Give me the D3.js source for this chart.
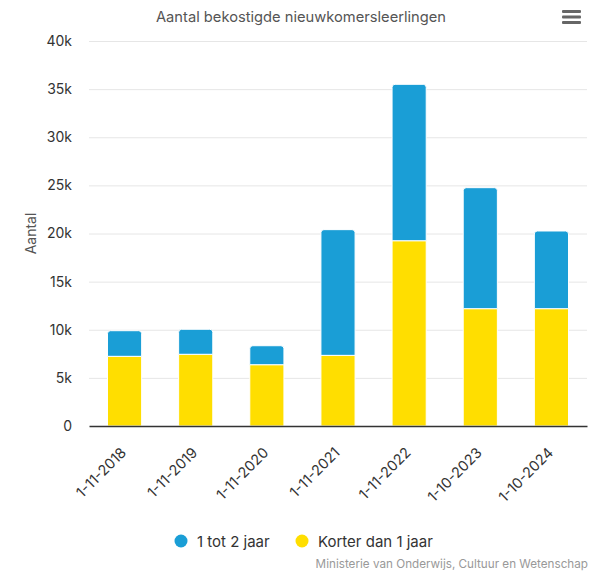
<!DOCTYPE html>
<html>
<head>
<meta charset="utf-8">
<script src="https://cdn.jsdelivr.net/npm/d3@7"></script>
<style>
  body { margin: 0; background: #fff; }
  text { font-family: Inter, Roboto, sans-serif; }
</style>
</head>
<body>
<div id="chart"></div>
<script>
// data
var categories = ["1-11-2018", "1-11-2019", "1-11-2020", "1-11-2021", "1-11-2022", "1-10-2023", "1-10-2024"];
var korterDan1 = [7240, 7450, 6370, 7340, 19250, 12190, 12190];
var tot2Jaar = [2660, 2600, 1970, 13060, 16250, 12570, 8070];
var yTicks = [0, 5000, 10000, 15000, 20000, 25000, 30000, 35000, 40000];
var seriesNames = ["1 tot 2 jaar", "Korter dan 1 jaar"];
var seriesColors = ["#1a9ed6", "#ffde00"];

var W = 598, H = 571;
var margin = {top: 41, right: 11, bottom: 145, left: 89},
    width = W - margin.left - margin.right,
    height = H - margin.top - margin.bottom;

var svg = d3.select("#chart").append("svg")
  .attr("width", W)
  .attr("height", H);

// title
svg.append("text")
  .attr("x", 301)
  .attr("y", 22)
  .attr("text-anchor", "middle")
  .style("font-size", "14.7px")
  .style("fill", "#555")
  .text("Aantal bekostigde nieuwkomersleerlingen");

// menu icon
[0, 1, 2].forEach(function (i) {
  svg.append("rect")
    .attr("x", 562).attr("y", 10 + i * 5.5)
    .attr("width", 19).attr("height", 3)
    .attr("rx", 1)
    .style("fill", "#666");
});

var g = svg.append("g")
  .attr("transform", "translate(" + margin.left + "," + margin.top + ")");

var x = d3.scaleBand().domain(categories).range([0, width]).paddingInner(0.52).paddingOuter(0.26);
var y = d3.scaleLinear().domain([0, 40000]).range([height, 0]);

// gridlines
g.append("g")
  .selectAll("line")
  .data(yTicks.filter(function (d) { return d > 0; }))
  .enter().append("line")
  .attr("x1", 0).attr("x2", width)
  .attr("y1", function (d) { return y(d) + 0.5; })
  .attr("y2", function (d) { return y(d) + 0.5; })
  .style("stroke", "#e6e6e6")
  .style("stroke-width", 1);

// y axis
var yAxis = g.append("g")
  .call(d3.axisLeft(y).tickValues(yTicks).tickSize(0).tickPadding(17)
    .tickFormat(function (d) { return d === 0 ? "0" : (d / 1000) + "k"; }));
yAxis.select(".domain").remove();
yAxis.selectAll("text")
  .style("font-size", "14px")
  .style("fill", "#333")
  .style("font-family", "Inter, sans-serif");

svg.append("text")
  .attr("transform", "translate(36," + (margin.top + height / 2) + ") rotate(-90)")
  .attr("text-anchor", "middle")
  .style("font-size", "14px")
  .style("fill", "#555")
  .text("Aantal");

// stacked bars
var rows = categories.map(function (c, i) {
  return {cat: c, korter: korterDan1[i], tot2: tot2Jaar[i]};
});
var stack = d3.stack().keys(["korter", "tot2"])(rows);

function topRounded(x0, y0, w, h, r) {
  return "M" + x0 + "," + (y0 + h) +
    "V" + (y0 + r) +
    "Q" + x0 + "," + y0 + " " + (x0 + r) + "," + y0 +
    "H" + (x0 + w - r) +
    "Q" + (x0 + w) + "," + y0 + " " + (x0 + w) + "," + (y0 + r) +
    "V" + (y0 + h) + "Z";
}

stack.forEach(function (layer, li) {
  var color = li === 0 ? seriesColors[1] : seriesColors[0];
  g.append("g").selectAll("path")
    .data(layer)
    .enter().append("path")
    .attr("d", function (d) {
      var x0 = x(d.data.cat), w = x.bandwidth();
      var y0 = y(d[1]), h = y(d[0]) - y(d[1]);
      return li === 1 ? topRounded(x0, y0, w, h, 3) : topRounded(x0, y0, w, h, 0);
    })
    .style("fill", color)
    .style("stroke", "#fff")
    .style("stroke-width", 1);
});

// x axis
var xAxis = g.append("g")
  .attr("transform", "translate(0," + height + ")")
  .call(d3.axisBottom(x).tickSize(0).tickPadding(0));
xAxis.select(".domain")
  .style("stroke", "#333")
  .style("stroke-width", 1.5);
xAxis.selectAll("text")
  .style("font-size", "14.5px")
  .style("fill", "#333")
  .style("font-family", "Inter, sans-serif")
  .style("text-anchor", "end")
  .attr("x", 0).attr("y", 0)
  .attr("dx", 0)
  .attr("dy", "0.35em")
  .attr("transform", "translate(-1,24) rotate(-45)");

// legend
var legend = svg.append("g");
var legendX = [197, 318];
seriesNames.forEach(function (name, i) {
  legend.append("circle")
    .attr("cx", legendX[i] - 16).attr("cy", 541).attr("r", 6.5)
    .style("fill", seriesColors[i]);
  legend.append("text")
    .attr("x", legendX[i]).attr("y", 546.5)
    .style("font-size", "15px")
    .style("fill", "#333")
    .text(name);
});

// credits
svg.append("text")
  .attr("x", 588).attr("y", 568)
  .attr("text-anchor", "end")
  .style("font-size", "11.7px")
  .style("fill", "#999")
  .text("Ministerie van Onderwijs, Cultuur en Wetenschap");
</script>
</body>
</html>
